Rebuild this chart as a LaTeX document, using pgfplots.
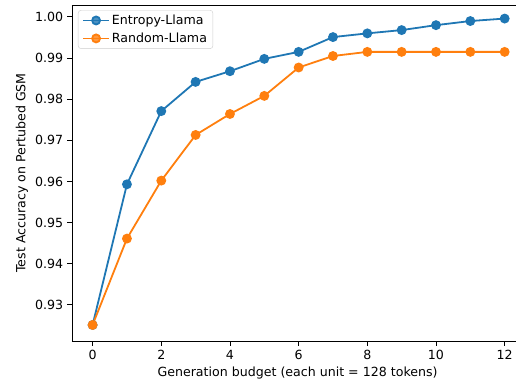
\documentclass[border=0pt]{standalone}
\usepackage{fontspec}
\setmainfont{DejaVu Sans}
\usepackage{pgfplots}
\pgfplotsset{compat=1.18}
\definecolor{c0}{HTML}{1F77B4}
\definecolor{c1}{HTML}{FF7F0E}
\begin{document}
\fontsize{12.6}{15}\selectfont
\begin{tikzpicture}
\begin{axis}[
  scale only axis, width=444pt, height=336pt,
  xmin=-0.6, xmax=12.33, ymin=0.9212, ymax=1.0029,
  axis x line=box, axis y line=left,
  axis line style={-, line width=0.9pt},
  tick pos=left, tick align=outside,
  major tick length=4.5pt,
  every tick/.style={black, line width=0.9pt},
  xtick={0,2,4,6,8,10,12},
  ytick={0.93,0.94,0.95,0.96,0.97,0.98,0.99,1.00},
  /pgf/number format/assume math mode=true,
  yticklabel style={inner sep=4.2pt, /pgf/number format/fixed, /pgf/number format/fixed zerofill, /pgf/number format/precision=2},
  xticklabel style={inner sep=4.2pt},
  xlabel={Generation budget (each unit = 128 tokens)},
  ylabel={Test Accuracy on Pertubed GSM},
  xlabel style={at={(axis description cs:0.508,-0.095)}, anchor=center},
  ylabel style={at={(axis description cs:-0.113,0.5)}, anchor=center, rotate=0},
  legend style={at={(axis description cs:0.0135,0.985)}, anchor=north west,
    draw=black!20, rounded corners=3pt, fill=white, fill opacity=0.8, text opacity=1,
    inner xsep=4pt, inner ysep=2.5pt, row sep=2.5pt,
    font=\fontsize{12.6}{15}\selectfont},
  legend cell align=left,
  legend image code/.code={\draw[mark repeat=2, mark phase=2] plot coordinates {(0pt,0pt) (13pt,0pt) (26pt,0pt)};},
]
\coordinate (sw) at (rel axis cs:0,0);
\coordinate (ne) at (rel axis cs:1,1);
\addplot[c0, line width=1.8pt, mark=*, mark size=4pt, mark options={solid}] coordinates {
(0,0.9251)(1,0.9593)(2,0.9771)(3,0.9842)(4,0.9868)(5,0.9898)(6,0.9915)(7,0.9951)(8,0.9960)(9,0.9968)(10,0.9980)(11,0.9990)(12,0.9996)};
\addlegendentry{Entropy-Llama}
\addplot[c1, line width=1.8pt, mark=*, mark size=4pt, mark options={solid}] coordinates {
(0,0.9251)(1,0.9461)(2,0.9602)(3,0.9713)(4,0.9764)(5,0.9808)(6,0.9877)(7,0.9905)(8,0.9915)(9,0.9915)(10,0.9915)(11,0.9915)(12,0.9915)};
\addlegendentry{Random-Llama}
\end{axis}
\pgfresetboundingbox
\path[use as bounding box] ([xshift=-72pt,yshift=-44pt]sw) rectangle ([yshift=5pt]ne);
\end{tikzpicture}
\end{document}
